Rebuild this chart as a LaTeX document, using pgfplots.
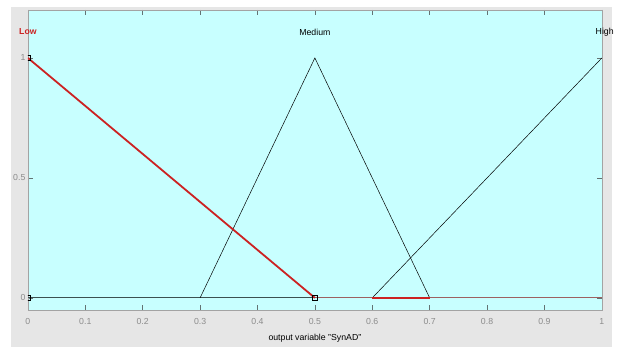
\documentclass[border=0pt]{standalone}
\usepackage{pgfplots}
\pgfplotsset{compat=1.18}
\usepackage{fontspec}
\setmainfont{Liberation Sans}
\definecolor{bgcyan}{HTML}{C8FFFF}
\definecolor{bggray}{HTML}{E6E6E6}
\definecolor{lowred}{HTML}{CC2222}
\definecolor{tickgray}{HTML}{8C8C8C}
\definecolor{zeroline}{HTML}{3C5050}
\begin{document}
\begin{tikzpicture}[x=1bp,y=1bp]
\fill[white] (0,0) rectangle (617,350);
\fill[bggray] (11,2) rectangle (614,343);
\begin{axis}[
  at={(28bp,39bp)}, anchor=south west,
  scale only axis, width=576bp, height=301bp,
  xmin=0, xmax=1, ymin=-0.05, ymax=1.2,
  axis background/.style={fill=bgcyan},
  axis line style={draw=tickgray!80},
  xtick={0,0.1,...,1}, ytick={0,0.5,1},
  xticklabels={0,0.1,0.2,0.3,0.4,0.5,0.6,0.7,0.8,0.9,1},
  yticklabels={0,0.5,1},
  tick align=inside, major tick length=5bp,
  xtick pos=both, ytick pos=both,
  tick style={draw=zeroline!80, line width=0.6pt},
  ticklabel style={font=\fontsize{8.8}{10}\selectfont, text=tickgray},
  xticklabel style={yshift=-5bp},
  yticklabel style={xshift=1bp},
  xlabel={output variable "SynAD"},
  xlabel style={font=\fontsize{8.8}{10}\selectfont, yshift=-3bp},
  clip mode=individual, clip marker paths=true,
]
\addplot[zeroline, line width=0.9pt] coordinates {(0,0) (0.5,0)};
\addplot[lowred!50!zeroline!80!white, line width=1.2pt] coordinates {(0.5,0) (1,0)};
\addplot[black, line width=0.5pt] coordinates {(0.3,0) (0.5,1) (0.7,0)};
\addplot[black, line width=0.5pt] coordinates {(0.6,0) (1,1)};
\addplot[lowred, line width=1.8pt] coordinates {(0.6,0) (0.7,0)};
\addplot[lowred, line width=1.8pt] coordinates {(0,1) (0.5,0)};
\addplot[only marks, mark=square, mark size=2.8bp, mark options={black, line width=0.6pt}] coordinates {(0,1) (0,0) (0.5,0)};
\node[font=\fontsize{8.8}{10}\selectfont\bfseries, text=lowred] at (axis cs:0,1.108) {Low};
\node[font=\fontsize{8.8}{10}\selectfont] at (axis cs:0.5,1.108) {Medium};
\node[font=\fontsize{8.8}{10}\selectfont] at (axis cs:1.005,1.108) {High};
\end{axis}
\end{tikzpicture}
\end{document}
